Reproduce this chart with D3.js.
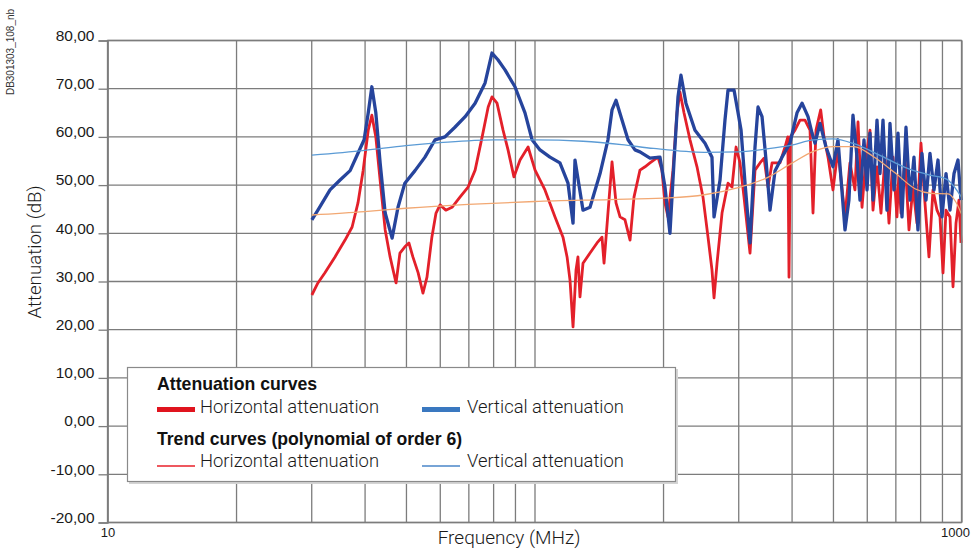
<!DOCTYPE html>
<html>
<head>
<meta charset="utf-8">
<script src="https://cdn.jsdelivr.net/npm/d3@7"></script>
<style>
  html, body { margin: 0; padding: 0; background: #fff; }
  svg { display: block; }
</style>
</head>
<body>
<svg id="chart" width="971" height="549"></svg>
<script>
// ---------------- DATA ----------------
const yTicks = [-20, -10, 0, 10, 20, 30, 40, 50, 60, 70, 80];
const xGrid = [10, 20, 30, 40, 50, 60, 70, 80, 90, 100, 200, 300, 400, 500, 600, 700, 800, 900, 1000];
const xTickLabels = [10, 1000];

// Horizontal attenuation (red)
const hFreq = [30.1, 31.1, 32.3, 34.1, 36.0, 37.4, 38.6, 39.7, 40.8, 41.6, 42.5, 43.5, 44.7, 45.9, 47.4, 48.4, 49.7, 50.8, 51.9, 53.4,
  54.8, 56.0, 57.5, 58.8, 60.1, 62.0, 64.1, 66.9, 69.9, 72.6, 75.4, 77.9, 79.5, 81.7, 84.4, 86.7, 89.5, 92.5, 96.6, 100.3,
  105.8, 111.7, 116.6, 119.2, 121.1, 123.1, 125.1, 126.4, 127.8, 129.9, 134.9, 140.1, 143.9, 145.5, 148.6, 151.9, 155.2, 158.6, 162.9, 167.4,
  171.0, 176.6, 181.5, 186.4, 194.6, 198.8, 202.1, 205.4, 211.0, 215.6, 219.1, 223.9, 231.3, 240.2, 248.1, 254.9, 260.4, 263.3, 267.6, 274.9,
  283.9, 290.1, 296.5, 302.9, 309.5, 319.7, 328.4, 337.4, 344.8, 352.3, 360.0, 375.8, 386.1, 392.0, 394.5, 397.5, 407.4, 418.6, 430.0, 441.8,
  449.0, 456.3, 468.0, 476.4, 486.8, 500.1, 513.7, 533.5, 548.0, 563.0, 572.3, 584.8, 597.5, 610.5, 620.5, 634.0, 647.8, 662.0, 676.4, 691.1,
  706.1, 713.0, 721.5, 737.3, 753.4, 769.7, 786.5, 803.7, 821.2, 839.1, 857.5, 876.2, 890.5, 905.1, 919.8, 939.9, 955.3, 970.8, 986.5, 997.3];
const hAtt = [27.2, 29.7, 31.8, 35.1, 38.6, 41.3, 46.3, 53.1, 61.4, 64.5, 60.0, 51.0, 40.7, 35.1, 29.7, 35.9, 37.2, 38.0, 35.1, 31.8,
  27.6, 30.9, 39.2, 44.2, 45.9, 44.8, 45.4, 47.5, 49.6, 53.1, 60.0, 66.2, 68.3, 67.0, 61.4, 57.3, 51.7, 55.2, 57.9, 53.1,
  49.0, 43.4, 39.2, 35.1, 30.3, 20.6, 32.4, 35.1, 26.8, 33.8, 35.9, 38.0, 39.2, 33.8, 44.2, 54.8, 46.3, 43.4, 42.8, 38.6,
  47.5, 53.1, 53.8, 54.6, 55.8, 53.1, 46.3, 43.4, 53.1, 65.0, 69.3, 65.0, 59.4, 53.8, 47.5, 39.2, 32.4, 26.6, 33.8, 44.2,
  50.4, 49.6, 57.9, 54.6, 47.5, 35.9, 53.1, 54.6, 55.6, 49.6, 54.6, 54.6, 57.9, 60.0, 30.9, 60.0, 61.4, 63.5, 63.5, 61.4,
  44.2, 61.4, 65.6, 60.0, 55.8, 49.0, 57.3, 43.4, 54.6, 49.0, 63.1, 45.4, 55.8, 61.4, 44.8, 53.8, 44.2, 55.8, 42.1, 55.8,
  43.4, 52.0, 44.2, 55.8, 40.7, 49.6, 42.1, 58.7, 46.3, 35.1, 49.0, 44.8, 43.4, 31.8, 44.8, 43.4, 28.9, 42.1, 46.9, 38.0];

// Vertical attenuation (blue)
const vFreq = [30.1, 31.1, 33.2, 35.0, 37.0, 38.6, 39.9, 40.8, 41.6, 42.5, 43.5, 44.7, 46.4, 47.9, 49.7, 52.5, 55.4, 58.5, 61.7, 65.1,
  68.8, 72.6, 76.6, 79.5, 82.1, 85.3, 90.0, 95.0, 98.7, 103.0, 108.7, 114.7, 119.8, 123.1, 124.4, 129.9, 134.9, 142.4, 148.6, 151.9,
  155.2, 160.3, 165.6, 171.9, 176.6, 186.4, 196.7, 202.1, 207.6, 212.1, 216.8, 220.3, 226.3, 237.6, 250.8, 260.4, 263.3, 271.9, 279.3, 283.9,
  293.3, 299.7, 304.6, 311.2, 319.7, 328.4, 333.8, 341.1, 348.5, 356.1, 365.9, 379.9, 396.6, 411.9, 423.2, 437.1, 446.6, 453.9, 466.3, 481.6,
  500.1, 513.7, 533.5, 545.0, 557.0, 569.2, 578.5, 591.1, 600.8, 610.5, 620.5, 634.0, 644.4, 654.9, 669.1, 680.0, 694.8, 710.0, 725.5, 741.3,
  757.4, 773.9, 790.7, 808.0, 825.6, 843.6, 862.1, 881.0, 900.2, 919.8, 939.9, 960.5, 981.3, 997.3];
const vAtt = [42.8, 44.8, 49.0, 51.0, 53.0, 56.6, 59.4, 65.0, 70.4, 65.0, 54.6, 44.2, 39.0, 45.4, 50.4, 53.0, 55.8, 59.4, 60.0, 62.0,
  64.2, 67.0, 71.2, 77.4, 76.0, 73.9, 70.4, 65.0, 59.4, 57.3, 55.8, 54.6, 50.4, 42.1, 55.2, 44.8, 45.4, 52.4, 59.4, 65.6,
  67.6, 63.5, 59.4, 57.3, 56.9, 55.6, 55.8, 49.6, 40.0, 54.6, 68.3, 72.8, 67.0, 61.4, 58.7, 55.8, 43.4, 51.0, 63.5, 69.7,
  69.7, 65.0, 61.4, 50.4, 38.0, 57.9, 66.2, 64.2, 55.2, 44.8, 53.0, 55.8, 58.7, 65.0, 67.0, 64.2, 60.8, 58.7, 62.8, 57.9,
  53.8, 59.4, 40.7, 46.9, 64.5, 55.8, 46.9, 59.4, 49.0, 60.8, 46.9, 63.5, 52.4, 63.5, 44.8, 62.8, 49.0, 60.8, 43.4, 62.0,
  46.9, 55.8, 40.7, 56.6, 46.9, 56.6, 49.0, 55.2, 43.4, 52.4, 44.8, 52.4, 55.2, 46.9];

// Trend curves (polynomial of order 6)
const trendHFreq = [30.1, 40, 50, 70, 100, 150, 200, 250, 300, 350, 400, 450, 500, 560, 620, 700, 780, 850, 930, 970, 1000];
const trendHAtt  = [43.8, 44.5, 45.2, 46.0, 46.6, 47.0, 47.3, 48.0, 49.5, 51.5, 54.5, 57.0, 58.0, 58.0, 56.0, 52.5, 49.2, 48.3, 48.2, 46.5, 44.0];
const trendVFreq = [30.1, 40, 50, 60, 80, 100, 130, 160, 190, 250, 300, 350, 400, 450, 500, 560, 650, 750, 850, 920, 1000];
const trendVAtt  = [56.2, 57.2, 58.2, 58.8, 59.4, 59.4, 59.1, 58.4, 57.6, 56.8, 56.9, 57.5, 58.3, 59.4, 59.6, 58.6, 56.0, 53.4, 52.0, 51.3, 47.5];

// ---------------- CHART ----------------
const svg = d3.select('#chart');
const x = d3.scaleLog().domain([10, 1000]).range([107.5, 961.5]);
const y = d3.scaleLinear().domain([-20, 80]).range([522.5, 40.5]);
const gridColor = '#7c7c7c';
const fontMain = "'Liberation Sans', Arial, sans-serif";
const legendFont = "Roboto, 'Liberation Sans', sans-serif";

// vertical grid
svg.append('g')
  .attr('transform', `translate(0,${y(-20)})`)
  .call(d3.axisBottom(x).tickValues(xGrid).tickSize(-(y(-20) - y(80))).tickFormat(''))
  .call(g => g.select('.domain').remove())
  .call(g => g.selectAll('line').attr('stroke', gridColor).attr('stroke-width', 1.3));

// y axis: ticks + labels
svg.append('g')
  .attr('transform', `translate(${x(10)},0)`)
  .call(d3.axisLeft(y).tickValues(yTicks).tickSize(9).tickPadding(4)
    .tickFormat(v => v.toFixed(2).replace('.', ',')))
  .call(g => g.select('.domain').attr('stroke', gridColor).attr('stroke-width', 1.3))
  .call(g => g.selectAll('line').attr('stroke', gridColor).attr('stroke-width', 1.3))
  .call(g => g.selectAll('text').attr('font-family', fontMain).attr('font-size', 15.5).attr('fill', '#1a1a1a').attr('dy', '-0.02em'));

// horizontal grid
svg.append('g')
  .call(g => g.selectAll('line.hg').data(yTicks).join('line')
    .attr('x1', x(10)).attr('x2', x(1000))
    .attr('y1', d => y(d)).attr('y2', d => y(d))
    .attr('stroke', gridColor).attr('stroke-width', 1.3));

// x tick labels
svg.append('g')
  .attr('transform', `translate(0,${y(-20)})`)
  .call(d3.axisBottom(x).tickValues(xTickLabels).tickSize(0).tickPadding(5).tickFormat(d3.format('d')))
  .call(g => g.select('.domain').remove())
  .call(g => g.selectAll('text').attr('font-family', fontMain).attr('font-size', 13).attr('fill', '#1a1a1a')
    .attr('text-anchor', d => d === 1000 ? 'end' : 'middle')
    .attr('dx', d => d === 1000 ? 8 : 0));

// curves
const line = (fx, fy) => d3.line().x((d, i) => x(fx[i])).y((d, i) => y(fy[i]));
svg.append('path').datum(hAtt)
  .attr('d', line(hFreq, hAtt))
  .attr('fill', 'none').attr('stroke', '#e3202a').attr('stroke-width', 2.8).attr('stroke-linejoin', 'round');
svg.append('path').datum(vAtt)
  .attr('d', line(vFreq, vAtt))
  .attr('fill', 'none').attr('stroke', '#26449c').attr('stroke-width', 3.3).attr('stroke-linejoin', 'round');

const sline = (fx, fy) => d3.line().curve(d3.curveMonotoneX).x((d, i) => x(fx[i])).y((d, i) => y(fy[i]));
svg.append('path').datum(trendVAtt)
  .attr('d', sline(trendVFreq, trendVAtt))
  .attr('fill', 'none').attr('stroke', '#5b9bd5').attr('stroke-width', 1.3);
svg.append('path').datum(trendHAtt)
  .attr('d', sline(trendHFreq, trendHAtt))
  .attr('fill', 'none').attr('stroke', '#f2a873').attr('stroke-width', 1.3);

// plot frame (top & right)
svg.append('rect')
  .attr('x', x(10)).attr('y', y(80)).attr('width', x(1000) - x(10)).attr('height', y(-20) - y(80))
  .attr('fill', 'none').attr('stroke', gridColor).attr('stroke-width', 1.3);

// legend
const lg = svg.append('g');
lg.append('rect').attr('x', 129).attr('y', 369).attr('width', 549).attr('height', 115).attr('fill', '#d4d4d4');
lg.append('rect').attr('x', 127.5).attr('y', 367.5).attr('width', 548).attr('height', 114)
  .attr('fill', '#fff').attr('stroke', '#8a8a8a').attr('stroke-width', 1.2);
lg.append('text').attr('x', 157).attr('y', 390).text('Attenuation curves')
  .attr('font-family', fontMain).attr('font-weight', 'bold').attr('font-size', 17.7).attr('fill', '#111');
lg.append('text').attr('x', 157).attr('y', 445).text('Trend curves (polynomial of order 6)')
  .attr('font-family', fontMain).attr('font-weight', 'bold').attr('font-size', 17.6).attr('fill', '#111');
const items = [
  {x: 157, y: 409.5, w: 5, c: '#e0141e', t: 'Horizontal attenuation', ty: 413, tx: 200},
  {x: 422, y: 409.5, w: 5, c: '#3a78c0', t: 'Vertical attenuation', ty: 413, tx: 467},
  {x: 157, y: 466, w: 1.5, c: '#e8202a', t: 'Horizontal attenuation', ty: 467, tx: 200},
  {x: 422, y: 466, w: 1.5, c: '#4a86c8', t: 'Vertical attenuation', ty: 467, tx: 467}
];
items.forEach(it => {
  lg.append('line').attr('x1', it.x).attr('x2', it.x + 38).attr('y1', it.y).attr('y2', it.y)
    .attr('stroke', it.c).attr('stroke-width', it.w);
  lg.append('text').attr('x', it.tx).attr('y', it.ty).text(it.t)
    .attr('font-family', legendFont).attr('font-weight', 300).attr('font-size', 18.4).attr('fill', '#1a1a1a');
});

// axis titles
svg.append('text').attr('x', 509).attr('y', 544).attr('text-anchor', 'middle')
  .text('Frequency (MHz)').attr('font-family', legendFont).attr('font-weight', 300).attr('font-size', 19).attr('fill', '#1a1a1a');
svg.append('text').attr('transform', 'translate(41,252) rotate(-90)').attr('text-anchor', 'middle')
  .text('Attenuation (dB)').attr('font-family', legendFont).attr('font-weight', 300).attr('font-size', 18.7).attr('fill', '#1a1a1a');
svg.append('text').attr('transform', 'translate(14,52) rotate(-90)').attr('text-anchor', 'middle')
  .text('DB301303_108_nb').attr('font-family', fontMain).attr('font-size', 10).attr('fill', '#333');
</script>
</body>
</html>
